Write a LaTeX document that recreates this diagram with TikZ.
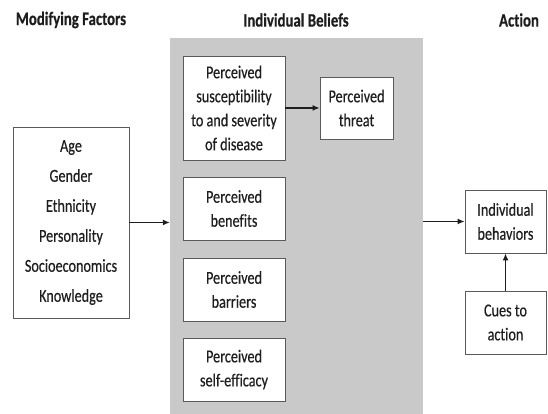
\documentclass[tikz,border=0pt]{standalone}
\usepackage{fontspec}
\setmainfont{Carlito}[FakeStretch=0.78, Ligatures=NoCommon, FakeBold=0.4]
\usetikzlibrary{arrows.meta}
\definecolor{panel}{HTML}{C9C9C9}
\definecolor{edge}{HTML}{5A5A5A}
\definecolor{ink}{HTML}{1E1E1E}
\tikzset{
  box/.style={draw=edge, line width=0.9pt, fill=white, align=center, inner sep=2pt,
    font=\fontsize{18.2}{24}\selectfont, text=ink},
  head/.style={font=\fontsize{19}{20}\selectfont\bfseries, text=ink},
  conn/.style={draw=ink, line width=1.2pt, -{Latex[length=7pt,width=6pt]}}
}
\begin{document}
\begin{tikzpicture}[x=1pt,y=1pt]
\useasboundingbox (0,0) rectangle (548,414);
\node[fill=panel, minimum width=253pt, minimum height=376pt, inner sep=0pt] (gray) at (296.5,188) {};
\node[head] (h1) at (71,394) {Modifying Factors};
\node[head] (h2) at (296,394) {Individual Beliefs};
\node[head] (h3) at (519,394) {Action};
\node[box, minimum width=116pt, minimum height=191pt, font=\fontsize{18.2}{30}\selectfont] (mod) at (71,191.5)
  {Age\\Gender\\Ethnicity\\Personality\\Socioeconomics\\Knowledge};
\node[box, minimum width=102pt, minimum height=104pt] (sus) at (234,306)
  {Perceived\\susceptibility\\to and severity\\of disease};
\node[box, minimum width=73pt, minimum height=62pt] (thr) at (356.5,306) {Perceived\\threat};
\node[box, minimum width=102pt, minimum height=63pt] (ben) at (234,205.5) {Perceived\\benefits};
\node[box, minimum width=102pt, minimum height=63pt] (bar) at (234,124.5) {Perceived\\barriers};
\node[box, minimum width=102pt, minimum height=63pt] (eff) at (234,44.5) {Perceived\\self-efficacy};
\node[box, minimum width=81pt, minimum height=63pt] (beh) at (505.5,192.5) {Individual\\behaviors};
\node[box, minimum width=81pt, minimum height=63pt] (cue) at (505.5,91.5) {Cues to\\action};
\draw[conn] (mod.east) -- (mod.east -| gray.west);
\draw[conn] (sus.east) -- (thr.west);
\draw[conn] (beh.west -| gray.east) -- (beh.west);
\draw[conn] (cue.north) -- (beh.south);
\end{tikzpicture}
\end{document}
